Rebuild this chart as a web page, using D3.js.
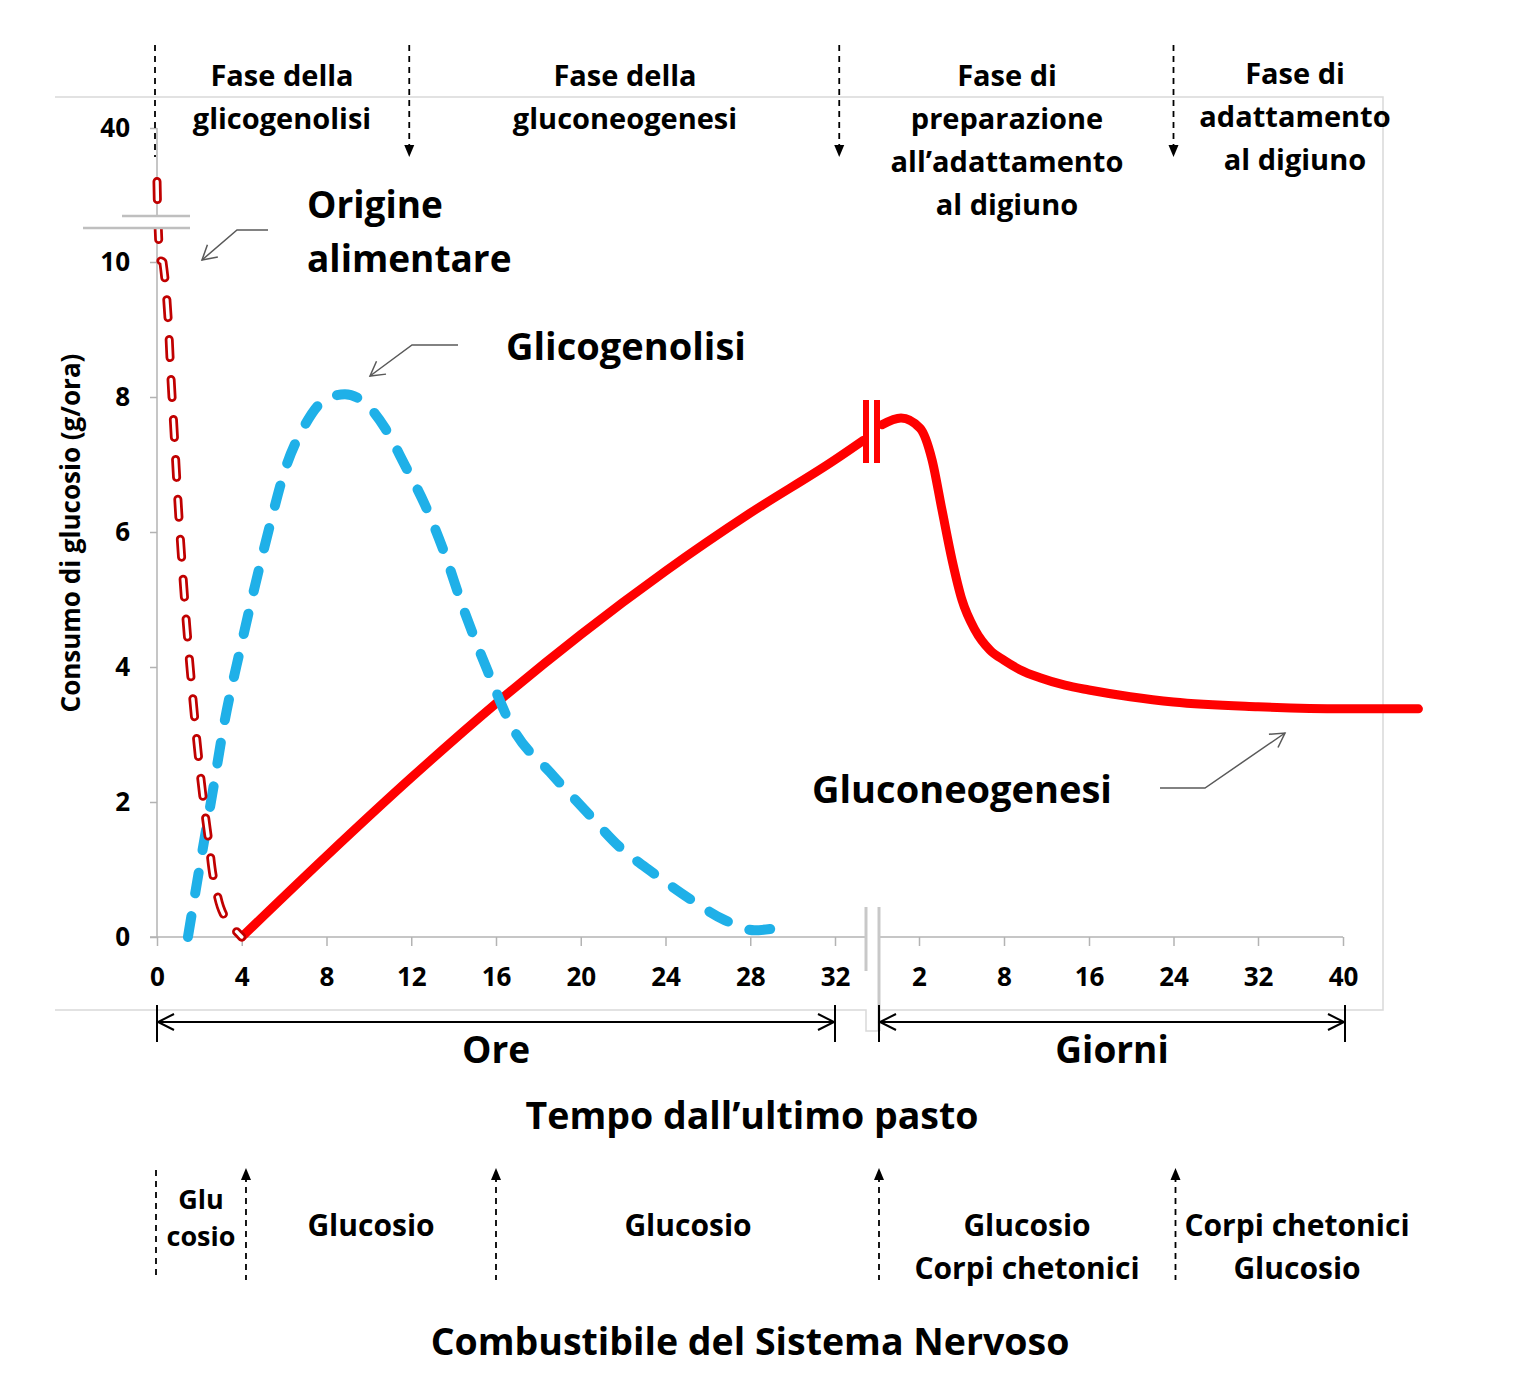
<!DOCTYPE html>
<html><head><meta charset="utf-8">
<script src="https://cdn.jsdelivr.net/npm/d3@7"></script>
<style>
body{margin:0;background:#fff}
svg{display:block}
text{font-family:'Open Sans',Lato,sans-serif;font-weight:700;fill:#000}
</style>
</head><body>
<svg id="c" width="1524" height="1400"></svg>
<script>
// ---------------- DATA ----------------
const yTickValues = [0, 2, 4, 6, 8, 10, 40];
const hourTicks = [0, 4, 8, 12, 16, 20, 24, 28, 32];
const dayTicks = [2, 8, 16, 24, 32, 40];

// Origine alimentare (hours, g/ora)
const alimentHours  = [0.0, 0.14, 0.28, 0.71, 1.08, 1.56, 2.2, 2.45, 2.74, 3.3, 4.0];
const alimentValues = [28,  10.4, 10,   8,    6,    4,    2,   1.4,  0.77, 0.25, 0];

// Glicogenolisi (hours, g/ora)
const glycoHours  = [1.46, 2.03, 2.6, 3.2, 3.92, 4.63, 5.33, 6.04, 6.99, 7.93, 8.87, 9.82, 10.76, 11.7, 12.65, 13.6, 14.4, 15.62, 16.76, 18.55, 20.2, 21.85, 23.5, 25.17, 26.8, 28.2, 29.0];
const glycoValues = [0,    1.07, 2.1, 3.21, 4.25, 5.21, 6.1,  6.92, 7.59, 7.96, 8.04, 7.91, 7.54,  6.99, 6.4,   5.66, 4.92, 3.93,  3.11,  2.44,  1.88, 1.33,  0.93, 0.56,  0.25, 0.1,  0.12];

// Gluconeogenesi – hours part
const gngHours  = [4, 8, 12, 16, 20, 24, 28, 32, 33.35];
const gngHourValues = [0, 1.2, 2.36, 3.46, 4.48, 5.42, 6.28, 7.07, 7.36];
// Gluconeogenesi – days part
const gngDays = [0.15, 1.1, 2.07, 2.92, 3.62, 4.33, 5.04, 5.95, 7.01, 8, 9.5, 11.39, 13.74, 16, 19.9, 24, 32, 40, 47.1];
const gngDayValues = [7.59, 7.69, 7.54, 7.07, 6.33, 5.59, 4.99, 4.55, 4.25, 4.1, 3.96, 3.84, 3.73, 3.66, 3.56, 3.48, 3.41, 3.38, 3.38];

const phaseLabels = [
  ["Fase della", "glicogenolisi"],
  ["Fase della", "gluconeogenesi"],
  ["Fase di", "preparazione", "all’adattamento", "al digiuno"],
  ["Fase di", "adattamento", "al digiuno"]
];
const fuelLabels = [
  ["Glu", "cosio"],
  ["Glucosio"],
  ["Glucosio"],
  ["Glucosio", "Corpi chetonici"],
  ["Corpi chetonici", "Glucosio"]
];
const yTitle = "Consumo di glucosio (g/ora)";
const xTitle = "Tempo dall’ultimo pasto";
const bottomTitle = "Combustibile del Sistema Nervoso";

// ---------------- SCALES ----------------
const svg = d3.select('#c');
const xH = d3.scaleLinear().domain([0, 32]).range([157, 835]);
const xD = d3.scaleLinear().domain([0, 2, 8, 16, 24, 32, 40, 48]).range([879, 919, 1004, 1089, 1173.5, 1258, 1343, 1428]);
const y = d3.scaleLinear().domain([0, 10, 40]).range([937, 262, 128]);

const grey = '#d9d9d9', axisGrey = '#b3b3b3';

// ---------------- FRAME ----------------
svg.append('path').attr('d', 'M55,97H1383V1010H879').attr('fill', 'none').attr('stroke', grey).attr('stroke-width', 1.5);
svg.append('path').attr('d', 'M55,1010H866V1031H879').attr('fill', 'none').attr('stroke', grey).attr('stroke-width', 1.5);

// ---------------- AXES ----------------
const ya = svg.append('g').attr('transform', 'translate(157,0)')
  .call(d3.axisLeft(y).tickValues(yTickValues).tickSize(7).tickPadding(20).tickFormat(d3.format('d')));
ya.select('.domain').remove();
ya.attr('font-family', null).attr('font-size', 26);
ya.selectAll('.tick line').attr('stroke', axisGrey).attr('stroke-width', 1.5);
svg.append('line').attr('x1', 157).attr('x2', 157).attr('y1', y(40)).attr('y2', y(0)).attr('stroke', axisGrey).attr('stroke-width', 1.5);

const xha = svg.append('g').attr('transform', 'translate(0,937)')
  .call(d3.axisBottom(xH).tickValues(hourTicks).tickSize(9).tickPadding(22));
xha.select('.domain').remove();
xha.attr('font-family', null).attr('font-size', 26);
xha.selectAll('.tick line').attr('stroke', axisGrey).attr('stroke-width', 1.5);
svg.append('line').attr('x1', 150).attr('x2', 866).attr('y1', 937).attr('y2', 937).attr('stroke', axisGrey).attr('stroke-width', 1.5);

const xda = svg.append('g').attr('transform', 'translate(0,937)')
  .call(d3.axisBottom(xD).tickValues(dayTicks).tickSize(9).tickPadding(22));
xda.select('.domain').remove();
xda.attr('font-family', null).attr('font-size', 26);
xda.selectAll('.tick line').attr('stroke', axisGrey).attr('stroke-width', 1.5);
svg.append('line').attr('x1', xD(0)).attr('x2', xD(40)).attr('y1', 937).attr('y2', 937).attr('stroke', axisGrey).attr('stroke-width', 1.5);

// x-axis break marks
svg.append('line').attr('x1', 866).attr('x2', 866).attr('y1', 907).attr('y2', 971).attr('stroke', '#c8c8c8').attr('stroke-width', 3);
svg.append('line').attr('x1', 879).attr('x2', 879).attr('y1', 907).attr('y2', 1031).attr('stroke', '#c8c8c8').attr('stroke-width', 3);

// ---------------- SERIES ----------------
const lineH = d3.line().x(d => xH(d[0])).y(d => y(d[1])).curve(d3.curveMonotoneX);
const lineD = d3.line().x(d => xD(d[0])).y(d => y(d[1])).curve(d3.curveMonotoneX);

const gngH = gngHours.map((h, i) => [h, gngHourValues[i]]);
const gngD = gngDays.map((h, i) => [h, gngDayValues[i]]);
svg.append('path').attr('d', lineH(gngH)).attr('fill', 'none').attr('stroke', '#ff0000')
  .attr('stroke-width', 9).attr('stroke-linecap', 'round').attr('stroke-linejoin', 'round');
svg.append('path').attr('d', lineD(gngD)).attr('fill', 'none').attr('stroke', '#ff0000')
  .attr('stroke-width', 9).attr('stroke-linecap', 'round').attr('stroke-linejoin', 'round');
// red break marks
[866, 877].forEach(x => svg.append('line').attr('x1', x).attr('x2', x).attr('y1', 400).attr('y2', 463)
  .attr('stroke', '#ff0000').attr('stroke-width', 6));

const glyco = glycoHours.map((h, i) => [h, glycoValues[i]]);
svg.append('path').attr('d', lineH(glyco)).attr('fill', 'none').attr('stroke', '#1fb0e8')
  .attr('stroke-width', 10).attr('stroke-linecap', 'round').attr('stroke-dasharray', '21 23');

const aliment = alimentHours.map((h, i) => [h, alimentValues[i]]);
const lineA = d3.line().x(d => xH(d[0])).y(d => y(d[1])).curve(d3.curveMonotoneY);
svg.append('path').attr('d', lineA(aliment)).attr('fill', 'none').attr('stroke', '#c00000')
  .attr('stroke-width', 9).attr('stroke-linecap', 'round').attr('stroke-dasharray', '18 22');
svg.append('path').attr('d', lineA(aliment)).attr('fill', 'none').attr('stroke', '#ffffff')
  .attr('stroke-width', 3.5).attr('stroke-linecap', 'round').attr('stroke-dasharray', '18 22');

// y-axis break
svg.append('rect').attr('x', 120).attr('y', 216).attr('width', 72).attr('height', 12).attr('fill', '#fff');
svg.append('line').attr('x1', 122).attr('x2', 190).attr('y1', 216).attr('y2', 216).attr('stroke', '#bfbfbf').attr('stroke-width', 2.5);
svg.append('line').attr('x1', 83).attr('x2', 190).attr('y1', 228).attr('y2', 228).attr('stroke', '#bfbfbf').attr('stroke-width', 2.5);

// ---------------- HELPERS ----------------
function head(x, yy, ang, len, half, opts) {
  const c = Math.cos(ang), s = Math.sin(ang);
  const bx = x - c * len, by = yy - s * len;
  const p1 = [bx - s * half, by + c * half], p2 = [bx + s * half, by - c * half];
  const p = svg.append('path');
  if (opts.filled) {
    p.attr('d', `M${x},${yy}L${p1}L${p2}Z`).attr('fill', opts.color);
  } else {
    p.attr('d', `M${p1}L${x},${yy}L${p2}`).attr('fill', 'none').attr('stroke', opts.color).attr('stroke-width', opts.w);
  }
}
function dashedArrow(x, y1, y2, arrowAt) {
  let a = y1, b = y2;
  if (arrowAt === 'end') b = y2 - 8;
  if (arrowAt === 'start') a = y1 + 8;
  svg.append('line').attr('x1', x).attr('x2', x).attr('y1', a).attr('y2', b)
    .attr('stroke', '#000').attr('stroke-width', 1.8).attr('stroke-dasharray', '6 5');
  if (arrowAt === 'end') head(x, y2, Math.PI / 2, 12, 5, {filled: true, color: '#000'});
  if (arrowAt === 'start') head(x, y1, -Math.PI / 2, 12, 5, {filled: true, color: '#000'});
}
function leader(pts) {
  svg.append('path').attr('d', d3.line()(pts)).attr('fill', 'none').attr('stroke', '#595959').attr('stroke-width', 1.5);
  const [p, q] = pts.slice(-2);
  head(q[0], q[1], Math.atan2(q[1] - p[1], q[0] - p[0]), 14, 8, {filled: false, color: '#595959', w: 1.5});
}
function textLines(lines, x, y0, lh, size, anchor) {
  const t = svg.append('text').attr('x', x).attr('y', y0).attr('font-size', size).attr('text-anchor', anchor || 'middle');
  lines.forEach((l, i) => t.append('tspan').attr('x', x).attr('y', y0 + i * lh).text(l));
  return t;
}

// ---------------- PHASES (top) ----------------
dashedArrow(xH(0) - 2, 45, 157, null);
dashedArrow(xH(12) - 2, 45, 157, 'end');
dashedArrow(xH(32.2), 45, 157, 'end');
dashedArrow(xD(24), 45, 157, 'end');
const phaseX = [282, 625, 1007, 1295];
const phaseY = [86, 86, 86, 84];
phaseLabels.forEach((L, i) => textLines(L, phaseX[i], phaseY[i], 43, 29));

// ---------------- ANNOTATIONS ----------------
textLines(["Origine", "alimentare"], 307, 218, 54, 37, 'start');
leader([[268, 230], [237, 230], [202, 260]]);
textLines(["Glicogenolisi"], 506, 360, 0, 38, 'start');
leader([[458, 345], [412, 345], [370, 376]]);
textLines(["Gluconeogenesi"], 812, 803, 0, 38, 'start');
leader([[1160, 788], [1205, 788], [1285, 733]]);

// ---------------- RANGE ARROWS ----------------
function rangeArrow(x1, x2, yy, label) {
  svg.append('line').attr('x1', x1).attr('x2', x2).attr('y1', yy).attr('y2', yy).attr('stroke', '#000').attr('stroke-width', 2);
  [x1, x2].forEach(x => svg.append('line').attr('x1', x).attr('x2', x).attr('y1', yy - 17).attr('y2', yy + 20).attr('stroke', '#000').attr('stroke-width', 2));
  head(x1 + 1, yy, Math.PI, 16, 8, {filled: false, color: '#000', w: 2});
  head(x2 - 1, yy, 0, 16, 8, {filled: false, color: '#000', w: 2});
  textLines([label], (x1 + x2) / 2, 1063, 0, 37);
}
rangeArrow(xH(0), xH(32), 1022, "Ore");
rangeArrow(xD(0), xD(40) + 2, 1022, "Giorni");

textLines([xTitle], 752, 1129, 0, 37.5);

// y title
svg.append('text').attr('transform', 'translate(80,533) rotate(-90)').attr('text-anchor', 'middle')
  .attr('font-size', 26).text(yTitle);

// ---------------- FUEL (bottom) ----------------
dashedArrow(156, 1170, 1280, null);
dashedArrow(xH(4.2), 1168, 1280, 'start');
dashedArrow(xH(16), 1168, 1280, 'start');
dashedArrow(xD(0), 1168, 1280, 'start');
dashedArrow(xD(24) + 2, 1168, 1280, 'start');
const fuelX = [201, 371, 688, 1027, 1297];
const fuelY = [1209, 1236, 1236, 1236, 1236];
const fuelLH = [37, 43, 43, 43, 43];
const fuelSize = [27, 30, 30, 30, 30];
fuelLabels.forEach((L, i) => textLines(L, fuelX[i], fuelY[i], fuelLH[i], fuelSize[i]));

textLines([bottomTitle], 750, 1355, 0, 37.5);
</script>
</body></html>
